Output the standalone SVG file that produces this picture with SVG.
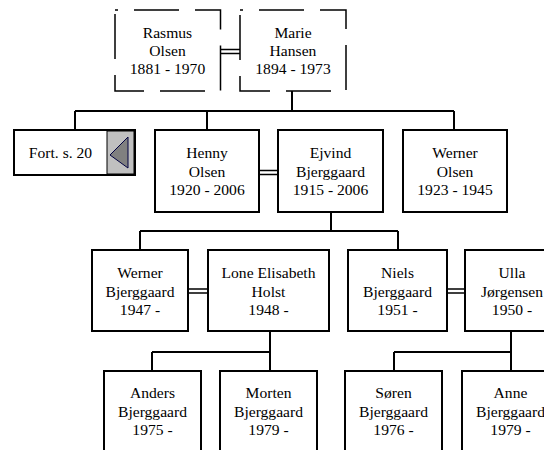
<svg xmlns="http://www.w3.org/2000/svg" width="544" height="450" viewBox="0 0 544 450">
<style>
.box{fill:#fff;stroke:#000;stroke-width:2}
.dash{fill:#fff;stroke:#000;stroke-width:1.5;stroke-dasharray:45 16;stroke-dashoffset:-19}
.ln{fill:none;stroke:#000;stroke-width:2}
.dbl{fill:none;stroke:#000;stroke-width:1.5}
text{font-family:'Liberation Serif',Tinos,'Times New Roman','DejaVu Serif',serif;font-size:15.6px;text-anchor:middle;fill:#000}
</style>
<rect width="544" height="450" fill="#fff"/>
<g id="connectors">
<path class="dbl" d="M220.5 49.5H240M220.5 53.5H240"/>
<path class="ln" d="M292 91V111M75 111H454M75 111V130M207 111V130M454 111V130"/>
<path class="dbl" d="M259 170.5H278M259 174.5H278"/>
<path class="ln" d="M331 212V231M140 231H398M140 231V250M398 231V250"/>
<path class="dbl" d="M188 289H208M188 293H208M447 289H465M447 293H465"/>
<path class="ln" d="M270 331V352M152 352H270M152 352V371M270 352V371"/>
<path class="ln" d="M511 331V352M394 352H511M394 352V371M511 352V371"/>
</g>
<g id="rasmus"><rect class="dash" x="115" y="10" width="105.5" height="81"/><text x="167.5" y="38">Rasmus</text><text x="167.5" y="56">Olsen</text><text x="167.5" y="74">1881 - 1970</text></g>
<g id="marie"><rect class="dash" x="240" y="10" width="106" height="81"/><text x="293" y="38">Marie</text><text x="293" y="56">Hansen</text><text x="293" y="74">1894 - 1973</text></g>
<g id="fort"><rect class="box" x="14" y="130" width="121" height="45"/><rect x="107" y="131" width="27" height="43" fill="#c0c0c0" stroke="#000" stroke-width="1"/><polygon points="110,155 128,137 128,168" fill="#808080" stroke="#000040" stroke-width="1"/><text x="60.5" y="158">Fort. s. 20</text></g>
<g id="henny"><rect class="box" x="155" y="130" width="104" height="82"/><text x="207" y="158">Henny</text><text x="207" y="176.5">Olsen</text><text x="207" y="195">1920 - 2006</text></g>
<g id="ejvind"><rect class="box" x="278" y="130" width="105" height="82"/><text x="330.5" y="158">Ejvind</text><text x="330.5" y="176.5">Bjerggaard</text><text x="330.5" y="195">1915 - 2006</text></g>
<g id="werner-olsen"><rect class="box" x="403" y="130" width="104" height="82"/><text x="455" y="158">Werner</text><text x="455" y="176.5">Olsen</text><text x="455" y="195">1923 - 1945</text></g>
<g id="werner-b"><rect class="box" x="92" y="250" width="96" height="81"/><text x="140" y="278">Werner</text><text x="140" y="296.5">Bjerggaard</text><text x="140" y="315">1947 -</text></g>
<g id="lone"><rect class="box" x="208" y="250" width="121" height="81"/><text x="268.5" y="278">Lone Elisabeth</text><text x="268.5" y="296.5">Holst</text><text x="268.5" y="315">1948 -</text></g>
<g id="niels"><rect class="box" x="348" y="250" width="99" height="81"/><text x="397.5" y="278">Niels</text><text x="397.5" y="296.5">Bjerggaard</text><text x="397.5" y="315">1951 -</text></g>
<g id="ulla"><rect class="box" x="465" y="250" width="99" height="81"/><text x="512" y="278">Ulla</text><text x="512" y="296.5">Jørgensen</text><text x="512" y="315">1950 -</text></g>
<g id="anders"><rect class="box" x="104" y="371" width="97" height="90"/><text x="152.5" y="398">Anders</text><text x="152.5" y="416.5">Bjerggaard</text><text x="152.5" y="435">1975 -</text></g>
<g id="morten"><rect class="box" x="220" y="371" width="97" height="90"/><text x="268.5" y="398">Morten</text><text x="268.5" y="416.5">Bjerggaard</text><text x="268.5" y="435">1979 -</text></g>
<g id="soren"><rect class="box" x="345" y="371" width="97" height="90"/><text x="393.5" y="398">Søren</text><text x="393.5" y="416.5">Bjerggaard</text><text x="393.5" y="435">1976 -</text></g>
<g id="anne"><rect class="box" x="462" y="371" width="97" height="90"/><text x="510.5" y="398">Anne</text><text x="510.5" y="416.5">Bjerggaard</text><text x="510.5" y="435">1979 -</text></g>
</svg>
